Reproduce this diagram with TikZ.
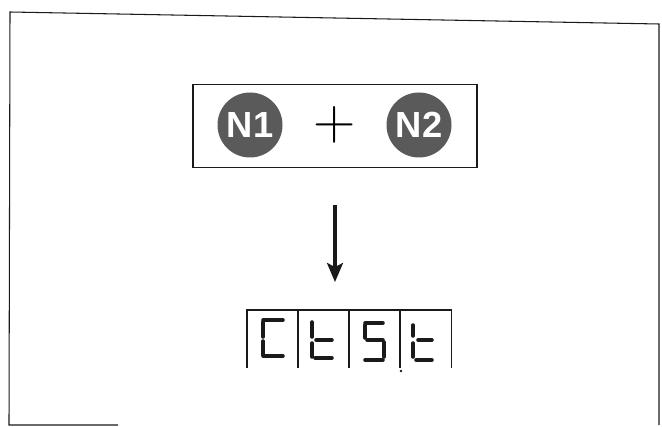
\documentclass[tikz,border=0pt]{standalone}
\usepackage{fontspec}
\setsansfont{Liberation Sans}
\usepackage{xcolor}
\definecolor{ballcol}{HTML}{5A5A5A}
\definecolor{inkcol}{HTML}{1A1A1A}
\usepackage{tikz}
\usetikzlibrary{arrows.meta, positioning, calc}

\begin{document}
\begin{tikzpicture}[x=0.03cm, y=-0.03cm, node distance=0.4cm, >=Stealth,
    ball/.style={circle, fill=ballcol, minimum size=1.95cm, inner sep=0pt,
                 font=\fontsize{31}{31}\sffamily\bfseries\color{white}},
    segline/.style={line width=3pt, line cap=round, color=inkcol}]
  \useasboundingbox (0,0) rectangle (662,427);

  % outer frame (bottom edge only partly printed)
  \draw[line width=0.9pt, color=inkcol]
    (118,425) -- (9,425) -- (10,12) -- (659,24) -- (659,425);

  % top box with the two balls
  \node[draw=inkcol, line width=1.2pt, minimum width=8.52cm,
        minimum height=2.49cm] (sumbox) at (335,126) {};
  \node[ball] (nA) at (250,125) {N1};
  \node[font=\fontsize{50}{50}\selectfont, inner sep=0pt] (plus) at (335,125) {+};
  \node[ball] (nB) at (419,125) {N2};

  % display, four cells open at the bottom
  \foreach \i in {0,...,3}
    \node[minimum width=1.53cm, minimum height=1.74cm, inner sep=0pt,
          anchor=north west] (cell\i) at (247+51*\i,310) {};
  \draw[line width=1.4pt, color=inkcol]
    (cell0.south west) -- (cell0.north west) -- (cell3.north east) -- (cell3.south east);
  \foreach \i in {1,2,3}
    \draw[line width=1.4pt, color=inkcol] (cell\i.north west) -- (cell\i.south west);

  % C
  \draw[segline] (263,320) -- (283,320);
  \draw[segline] (263,322) -- (263,337);
  \draw[segline] (263,341) -- (263,355);
  \draw[segline] (263,356) -- (283,356);
  % t
  \draw[segline] (312,322) -- (312,337);
  \draw[segline] (316,340) -- (332,340);
  \draw[segline] (312,343) -- (312,357);
  \draw[segline] (315,358) -- (332,358);
  % 5
  \draw[segline] (365,323) -- (383,323);
  \draw[segline] (365,325) -- (365,338);
  \draw[segline] (367,340) -- (383,340);
  \draw[segline] (384,342) -- (384,357);
  \draw[segline] (365,360) -- (383,360);
  % t
  \draw[segline] (413,325) -- (413,336);
  \draw[segline] (418,340) -- (432,340);
  \draw[segline] (413,343) -- (413,357);
  \draw[segline] (416,360) -- (432,360);
  \fill[inkcol] (401,371) circle (0.04cm);

  \draw[-{Stealth[length=0.57cm, width=0.48cm, inset=0.12cm]}, line width=2.6pt,
        color=inkcol, shorten <=1.11cm, shorten >=0.84cm] (sumbox) -- (sumbox |- cell1.north);
\end{tikzpicture}
\end{document}
